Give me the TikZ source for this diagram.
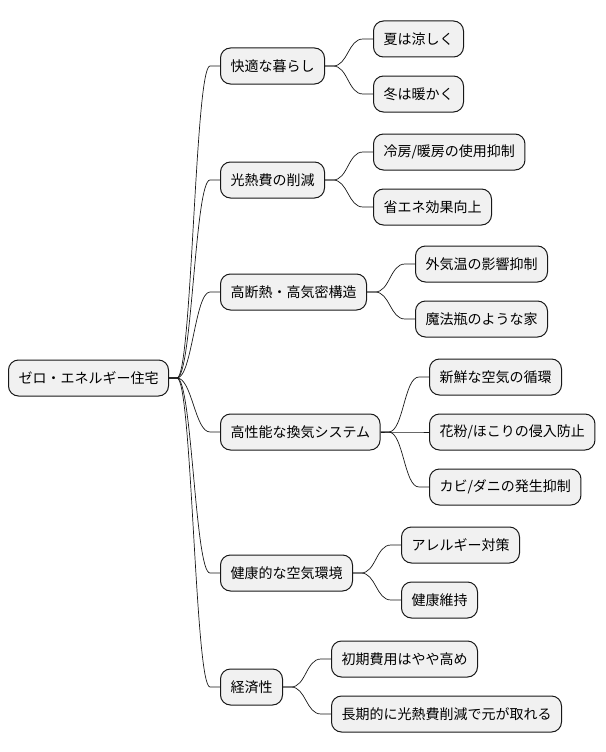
\documentclass[tikz,border=0pt]{standalone}
\usepackage{fontspec}
\setmainfont{Noto Sans CJK JP}
\definecolor{boxfill}{HTML}{F1F1F1}
\definecolor{boxline}{HTML}{181818}
\tikzset{
  topic/.style={draw=boxline,fill=boxfill,line width=1pt,rounded corners=10pt,minimum height=36pt,inner xsep=10pt,anchor=west,font=\fontsize{14}{16}\selectfont},
  branch/.style={draw=boxline,line width=0.7pt}
}
\begin{document}
\begin{tikzpicture}[x=1pt,y=-1pt]
        \useasboundingbox (0,0) rectangle (605,752);
        \node[topic] (root) at (8,378) {ゼロ・エネルギー住宅};
        \node[topic] (k1) at (220,66) {快適な暮らし};
        \node[topic] (k2) at (220,180) {光熱費の削減};
        \node[topic] (k3) at (220,292) {高断熱・高気密構造};
        \node[topic] (k4) at (220,432) {高性能な換気システム};
        \node[topic] (k5) at (220,573) {健康的な空気環境};
        \node[topic] (k6) at (220,687) {経済性};
        \node[topic] (k1a) at (373,39) {夏は涼しく};
        \node[topic] (k1b) at (373,94) {冬は暖かく};
        \node[topic] (k2a) at (373,152) {冷房/暖房の使用抑制};
        \node[topic] (k2b) at (373,207) {省エネ効果向上};
        \node[topic] (k3a) at (415,264) {外気温の影響抑制};
        \node[topic] (k3b) at (415,319) {魔法瓶のような家};
        \node[topic] (k4a) at (429,377) {新鮮な空気の循環};
        \node[topic] (k4b) at (429,432) {花粉/ほこりの侵入防止};
        \node[topic] (k4c) at (429,487) {カビ/ダニの発生抑制};
        \node[topic] (k5a) at (401,545) {アレルギー対策};
        \node[topic] (k5b) at (401,600) {健康維持};
        \node[topic] (k6a) at (331,659) {初期費用はやや高め};
        \node[topic] (k6b) at (331,714) {長期的に光熱費削減で元が取れる};
        \foreach \p/\c in {root/k1,root/k2,root/k3,root/k4,root/k5,root/k6,k1/k1a,k1/k1b,k2/k2a,k2/k2b,k3/k3a,k3/k3b,k4/k4a,k4/k4b,k4/k4c,k5/k5a,k5/k5b,k6/k6a,k6/k6b}
            \draw[branch] (\p.east) -- ++(8,0) .. controls +(15,0) and +(-15,0) .. ([xshift=-10pt]\c.west) -- (\c.west);
    \end{tikzpicture}
\end{document}
